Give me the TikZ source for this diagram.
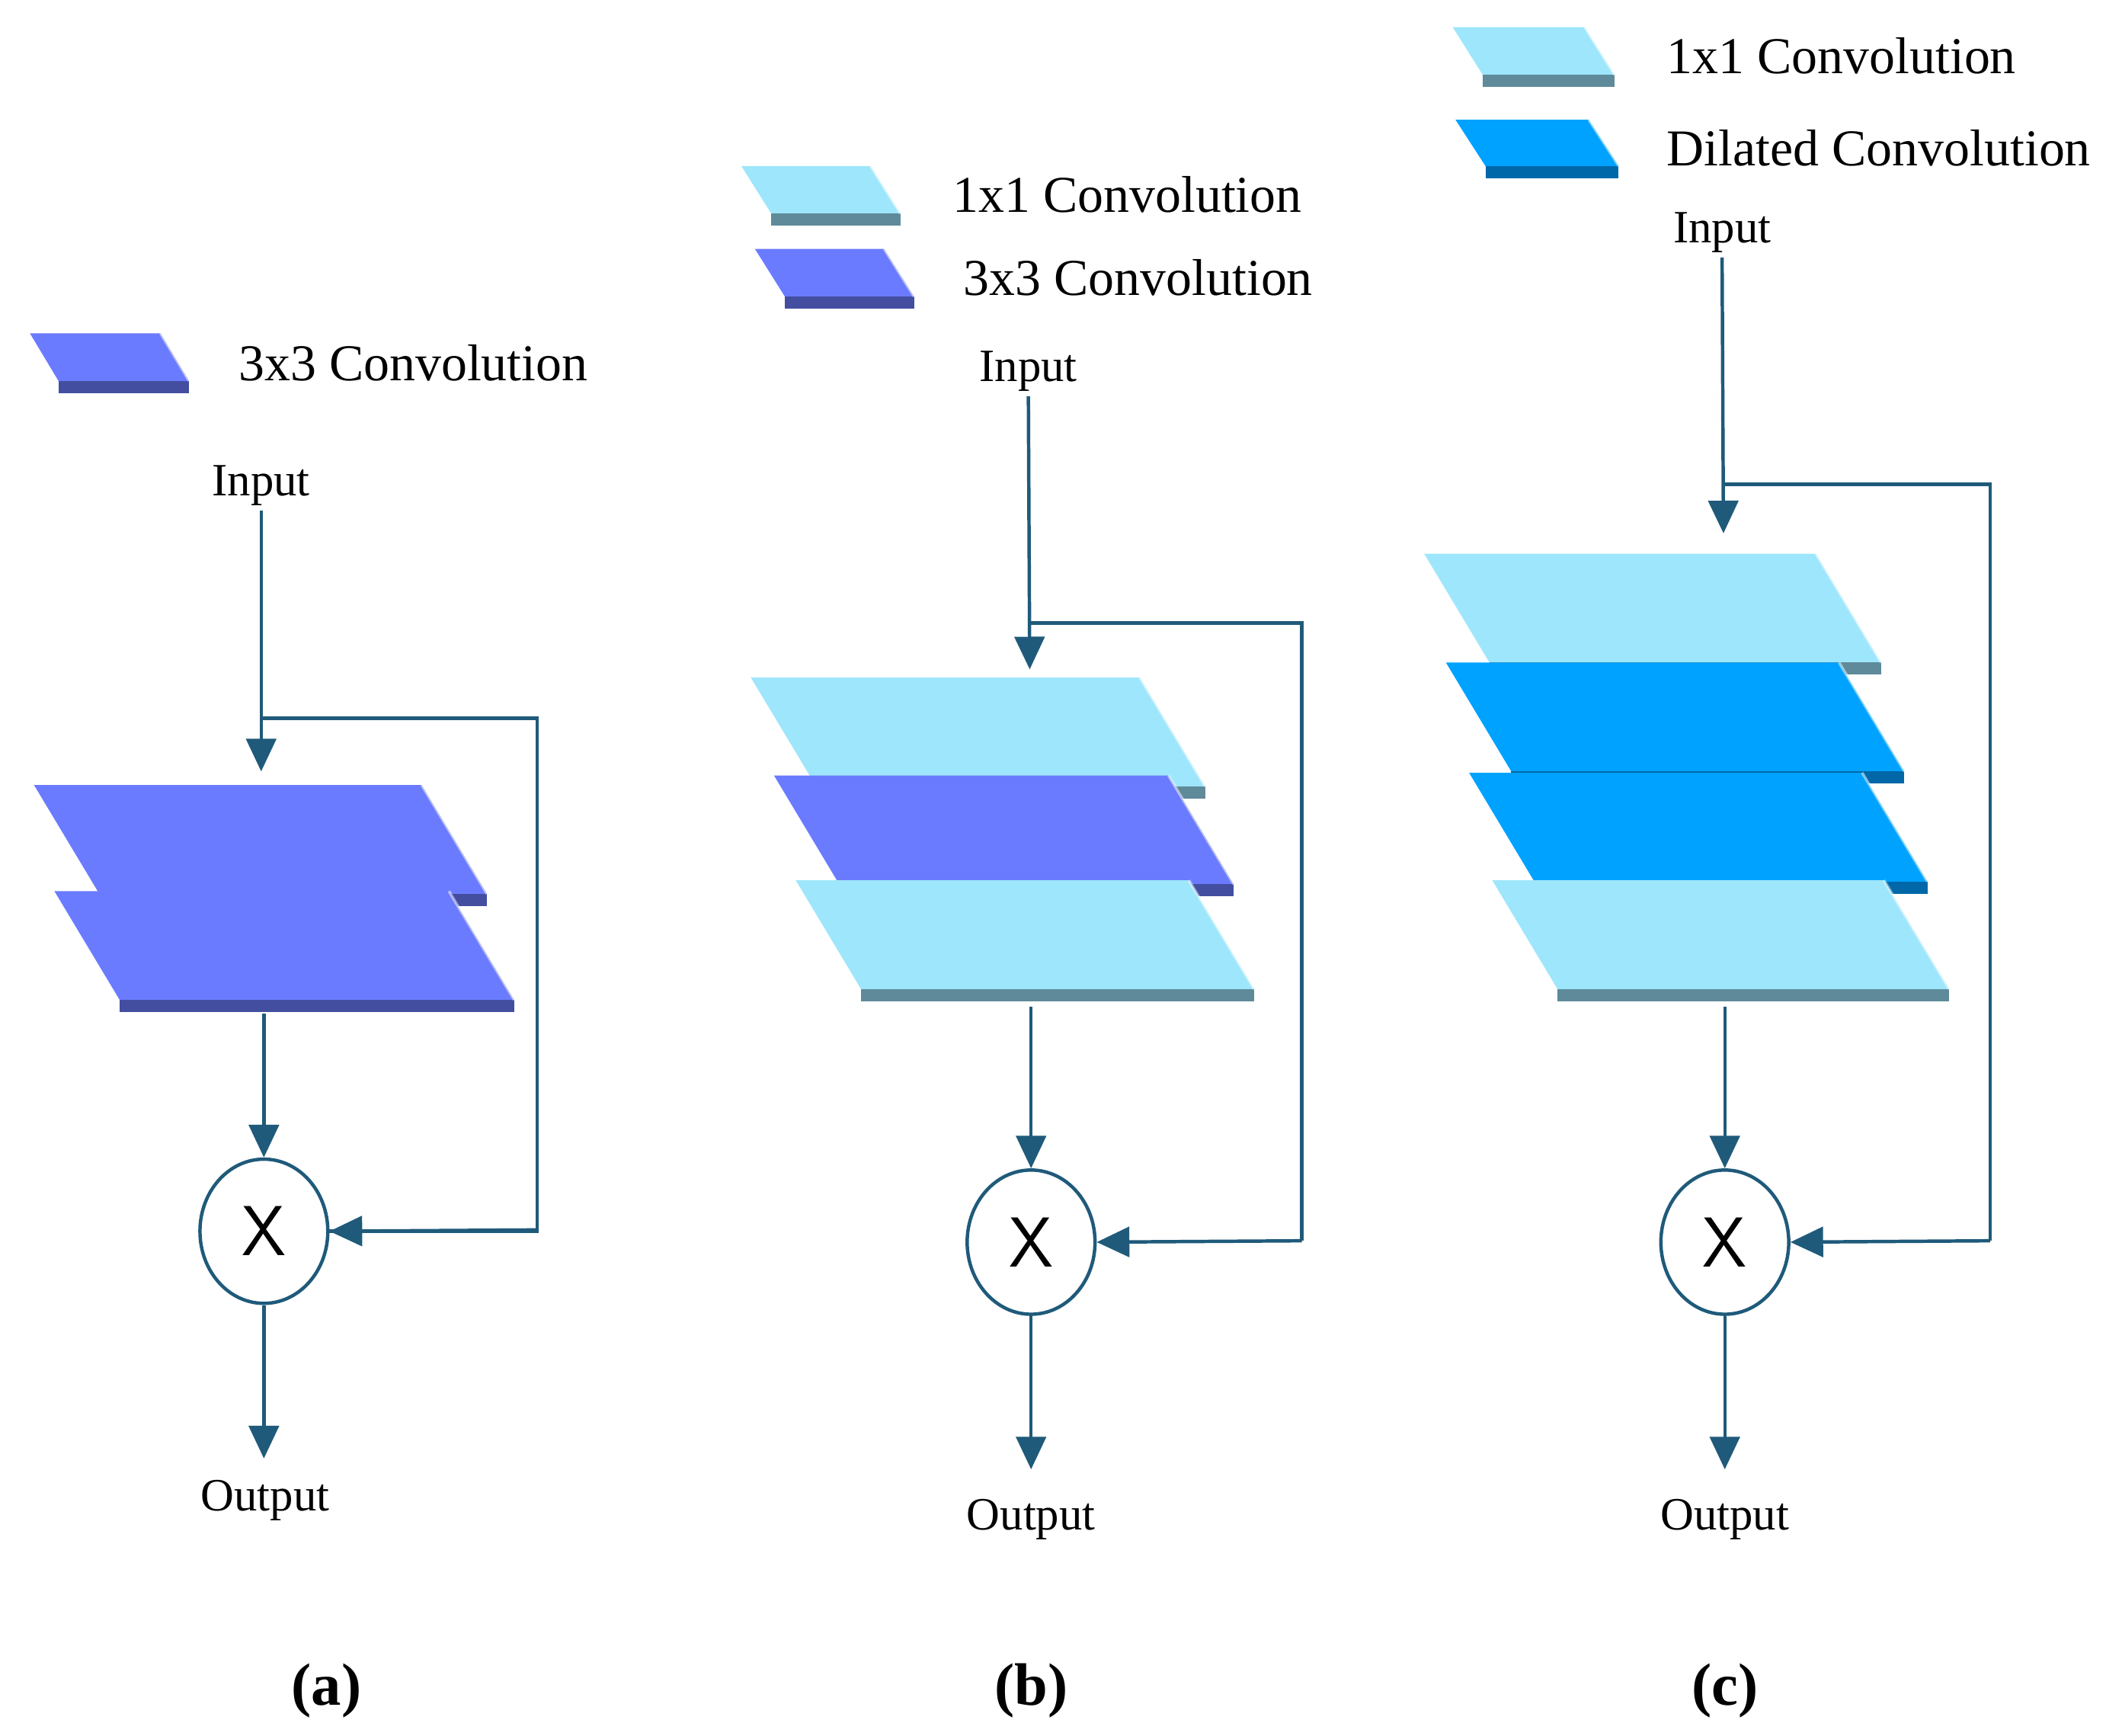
\documentclass[tikz,border=0pt]{standalone}
\usepackage{fontspec}
\setmainfont{Liberation Serif}
\usetikzlibrary{arrows.meta, shapes.geometric}
\definecolor{flow}{HTML}{1F5A7A}
\definecolor{purpletop}{HTML}{6B7BFF}
\definecolor{purpleedge}{HTML}{434EA0}
\definecolor{lighttop}{HTML}{9EE6FB}
\definecolor{lightedge}{HTML}{5F8A9A}
\definecolor{bluetop}{HTML}{00A2FF}
\definecolor{blueedge}{HTML}{0068A8}
% slab: x, y (top left), width, slant dx, depth, top colour, edge colour
\newcommand{\convslab}[7]{%
  \fill[#6] (#1,#2) -- ++(#3,0) -- ++(#4,#5) -- ++(-#3,0) -- cycle;
  \fill[#7] (#1+#4,#2+#5) rectangle ++(#3,9);
  \draw[white, opacity=0.5, line width=2pt] (#1+#3,#2) -- ++(#4,#5);
}
\begin{document}
\begin{tikzpicture}[
    x=1pt, y=-1pt,
    line/.style = {-{Triangle[length=24pt, width=22pt]}, flow, line width=2.5pt},
    plain/.style = {flow, line width=2.5pt},
    label/.style = {font=\fontsize{34}{36}\selectfont},
    legend/.style = {font=\fontsize{38}{40}\selectfont, anchor=west},
    caption/.style = {font=\fontsize{44}{46}\selectfont\bfseries},
    mult/.style = {draw=flow, line width=2.5pt, ellipse, minimum width=94pt, minimum height=106pt, font=\fontsize{52}{54}\sffamily\selectfont}
]
\useasboundingbox (0,0) rectangle (1560,1276);

% (a)
\convslab{22}{245}{96}{21}{35}{purpletop}{purpleedge}
\node [legend] (legA) at (172,267) {3x3 Convolution};
\node [label] (inA) at (192,357) {Input};
\convslab{25}{577}{285}{48}{80}{purpletop}{purpleedge}
\convslab{40}{655}{290}{48}{80}{purpletop}{purpleedge}
\coordinate (topA) at (192,567);
\coordinate (splitA) at (192,528);
\coordinate (botA) at (194,745);
\node [mult] (xA) at (194,905) {X};
\node [label] (outA) at (195,1103) {Output};
\node [caption] (capA) at (240,1243) {(a)};
\draw [line] (inA.south) ++(0,0) -- (topA);
\draw [plain] (splitA) -- (395,528) |- (xA.east) ;
\draw [line] (395,904) -- (xA.east);
\draw [line] (botA) -- (xA.north);
\draw [line] (xA.south) -- (194,1072);

% (b)
\convslab{545}{122}{95}{22}{35}{lighttop}{lightedge}
\node [legend] (legB1) at (697,143) {1x1 Convolution};
\convslab{555}{183}{95}{22}{35}{purpletop}{purpleedge}
\node [legend] (legB2) at (705,204) {3x3 Convolution};
\node [label] (inB) at (756,273) {Input};
\convslab{552}{498}{286}{48}{80}{lighttop}{lightedge}
\convslab{569}{570}{290}{48}{80}{purpletop}{purpleedge}
\convslab{585}{647}{289}{48}{80}{lighttop}{lightedge}
\coordinate (topB) at (757,492);
\coordinate (splitB) at (757,458);
\coordinate (botB) at (758,740);
\node [mult] (xB) at (758,913) {X};
\node [label] (outB) at (758,1117) {Output};
\node [caption] (capB) at (758,1243) {(b)};
\draw [line] (inB.south) -- (topB);
\draw [plain] (splitB) -- (957,458) -- (957,912);
\draw [line] (957,912) -- (xB.east);
\draw [line] (botB) -- (xB.north);
\draw [line] (xB.south) -- (758,1080);

% (c)
\convslab{1068}{20}{97}{22}{35}{lighttop}{lightedge}
\node [legend] (legC1) at (1222,41) {1x1 Convolution};
\convslab{1070}{88}{98}{22}{34}{bluetop}{blueedge}
\node [legend] (legC2) at (1222,109) {Dilated Convolution};
\node [label] (inC) at (1266,171) {Input};
\convslab{1047}{407}{288}{48}{80}{lighttop}{lightedge}
\convslab{1063}{487}{289}{48}{80}{bluetop}{blueedge}
\convslab{1080}{568}{289}{48}{80}{bluetop}{blueedge}
\convslab{1097}{647}{288}{48}{80}{lighttop}{lightedge}
\coordinate (topC) at (1267,392);
\coordinate (splitC) at (1267,356);
\coordinate (botC) at (1268,740);
\node [mult] (xC) at (1268,913) {X};
\node [label] (outC) at (1268,1117) {Output};
\node [caption] (capC) at (1268,1243) {(c)};
\draw [line] (inC.south) -- (topC);
\draw [plain] (splitC) -- (1463,356) -- (1463,912);
\draw [line] (1463,912) -- (xC.east);
\draw [line] (botC) -- (xC.north);
\draw [line] (xC.south) -- (1268,1080);
\end{tikzpicture}
\end{document}
